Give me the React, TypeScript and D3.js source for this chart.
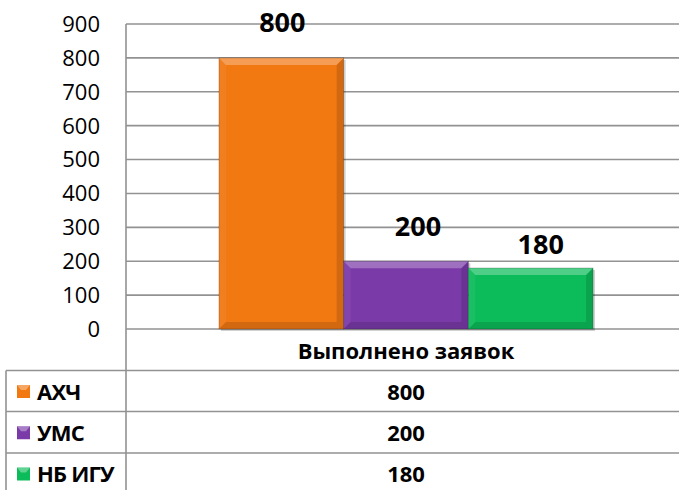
import { FC, useRef, useEffect } from 'react'
import * as d3 from 'd3'

const categories = ['Выполнено заявок']
const seriesNames = ['АХЧ', 'УМС', 'НБ ИГУ']
const seriesValues = [800, 200, 180]
const seriesColors = ['#F27812', '#7A3AA8', '#0CBC5A']
const yTicks = [0, 100, 200, 300, 400, 500, 600, 700, 800, 900]

const FONT = '"Open Sans", "Noto Sans", sans-serif'

const App: FC = () => {
  const svgRef = useRef<SVGSVGElement>(null)

  useEffect(() => {
    document.body.style.margin = '0'
    if (!svgRef.current) return
    const svg = d3.select(svgRef.current)
    svg.selectAll('*').remove()

    const width = 679
    const height = 490
    const plot = { left: 126, right: 686, top: 24, bottom: 329 }
    const rowLines = [370.5, 411.5, 453]
    const tableLeft = 6

    svg.attr('width', width).attr('height', height)

    const y = d3.scaleLinear().domain([0, 900]).range([plot.bottom, plot.top])
    const x0 = d3.scaleBand().domain(categories).range([plot.left, plot.right])
    const gap = x0.bandwidth() * 0.166
    const x1 = d3.scaleBand()
      .domain(seriesNames)
      .range([(x0(categories[0]) || 0) + gap, (x0(categories[0]) || 0) + x0.bandwidth() - gap])

    const data = seriesNames.map((name, i) => ({ name, value: seriesValues[i], color: seriesColors[i] }))

    // gridlines
    svg.append('g')
      .selectAll('line')
      .data(yTicks)
      .join('line')
      .attr('x1', plot.left)
      .attr('x2', width)
      .attr('y1', d => y(d))
      .attr('y2', d => y(d))
      .attr('stroke', '#929292')
      .attr('stroke-width', 1.6)

    // tick labels
    svg.append('g')
      .selectAll('text')
      .data(yTicks)
      .join('text')
      .attr('x', 100)
      .attr('y', d => y(d))
      .attr('dy', '0.36em')
      .attr('text-anchor', 'end')
      .attr('font-family', FONT)
      .attr('font-size', 22)
      .attr('fill', '#000')
      .text(d => d)

    // bars with bevel
    const bevel = 7
    const bars = svg.append('g')
      .selectAll('g')
      .data(data)
      .join('g')

    bars.append('rect')
      .attr('x', d => (x1(d.name) || 0) + 2)
      .attr('y', d => y(d.value) + 2)
      .attr('width', x1.bandwidth())
      .attr('height', d => plot.bottom - y(d.value))
      .attr('fill', 'rgba(0,0,0,0.18)')

    bars.append('rect')
      .attr('x', d => x1(d.name) || 0)
      .attr('y', d => y(d.value))
      .attr('width', x1.bandwidth())
      .attr('height', d => plot.bottom - y(d.value))
      .attr('fill', d => d.color)

    const edge = (d: typeof data[0], side: string) => {
      const xl = x1(d.name) || 0
      const xr = xl + x1.bandwidth()
      const yt = y(d.value)
      const yb = plot.bottom
      const b = Math.min(bevel, (yb - yt) / 2)
      if (side === 'top') return `M${xl},${yt}L${xr},${yt}L${xr - b},${yt + b}L${xl + b},${yt + b}Z`
      if (side === 'bottom') return `M${xl},${yb}L${xr},${yb}L${xr - b},${yb - b}L${xl + b},${yb - b}Z`
      if (side === 'left') return `M${xl},${yt}L${xl + b},${yt + b}L${xl + b},${yb - b}L${xl},${yb}Z`
      return `M${xr},${yt}L${xr - b},${yt + b}L${xr - b},${yb - b}L${xr},${yb}Z`
    }
    const sides: [string, string][] = [
      ['top', 'rgba(255,255,255,0.28)'],
      ['left', 'rgba(255,255,255,0.06)'],
      ['right', 'rgba(0,0,0,0.13)'],
      ['bottom', 'rgba(0,0,0,0.13)'],
    ]
    sides.forEach(([side, fill]) => {
      bars.append('path').attr('d', d => edge(d, side)).attr('fill', fill)
    })
    bars.append('rect')
      .attr('x', d => x1(d.name) || 0)
      .attr('y', d => y(d.value))
      .attr('width', x1.bandwidth())
      .attr('height', d => plot.bottom - y(d.value))
      .attr('fill', 'none')
      .attr('stroke', 'rgba(0,0,0,0.25)')
      .attr('stroke-width', 0.8)

    // value labels (manually nudged as in the original)
    const labelNudge = [{ dx: 1, dy: -26 }, { dx: 12, dy: -25 }, { dx: 10, dy: -14 }]
    svg.append('g')
      .selectAll('text')
      .data(data)
      .join('text')
      .attr('x', (d, i) => (x1(d.name) || 0) + x1.bandwidth() / 2 + labelNudge[i].dx)
      .attr('y', (d, i) => y(d.value) + labelNudge[i].dy)
      .attr('text-anchor', 'middle')
      .attr('font-family', FONT)
      .attr('font-weight', 'bold')
      .attr('font-size', 27)
      .attr('fill', '#000')
      .text(d => d.value)

    // data table
    const tbl = svg.append('g').attr('stroke', '#929292').attr('stroke-width', 1.6)
    tbl.append('line')
      .attr('x1', plot.left).attr('x2', plot.left)
      .attr('y1', plot.top).attr('y2', height)
    tbl.append('line')
      .attr('x1', tableLeft).attr('x2', tableLeft)
      .attr('y1', rowLines[0]).attr('y2', height)
    tbl.selectAll('line.row')
      .data(rowLines)
      .join('line')
      .attr('class', 'row')
      .attr('x1', tableLeft).attr('x2', width)
      .attr('y1', d => d).attr('y2', d => d)

    const cx = (x0(categories[0]) || 0) + x0.bandwidth() / 2
    svg.append('text')
      .attr('x', cx)
      .attr('y', (plot.bottom + rowLines[0]) / 2 + 1)
      .attr('dy', '0.36em')
      .attr('text-anchor', 'middle')
      .attr('font-family', FONT)
      .attr('font-weight', 'bold')
      .attr('font-size', 22)
      .text(categories[0])

    const rowMid = (i: number) => {
      const top = rowLines[i]
      const bot = i + 1 < rowLines.length ? rowLines[i + 1] : rowLines[i] + (rowLines[1] - rowLines[0])
      return (top + bot) / 2
    }

    const rows = svg.append('g')
      .selectAll('g')
      .data(data)
      .join('g')

    rows.append('text')
      .attr('x', cx)
      .attr('y', (_, i) => rowMid(i) + 1)
      .attr('dy', '0.36em')
      .attr('text-anchor', 'middle')
      .attr('font-family', FONT)
      .attr('font-weight', 'bold')
      .attr('font-size', 22)
      .text(d => d.value)

    rows.append('rect')
      .attr('x', 17)
      .attr('y', (_, i) => rowMid(i) - 6)
      .attr('width', 13)
      .attr('height', 13)
      .attr('fill', d => d.color)
    rows.append('path')
      .attr('d', (_, i) => {
        const t = rowMid(i) - 6
        return `M17,${t}L30,${t}L26,${t + 5}L21,${t + 5}Z`
      })
      .attr('fill', 'rgba(255,255,255,0.35)')

    rows.append('text')
      .attr('x', 37)
      .attr('y', (_, i) => rowMid(i) + 1)
      .attr('dy', '0.36em')
      .attr('font-family', FONT)
      .attr('font-weight', 'bold')
      .attr('font-size', 22)
      .attr('letter-spacing', -0.8)
      .text(d => d.name)
  }, [])

  return (
    <div>
      <svg ref={svgRef} style={{ display: 'block' }} />
    </div>
  )
}

export default App
